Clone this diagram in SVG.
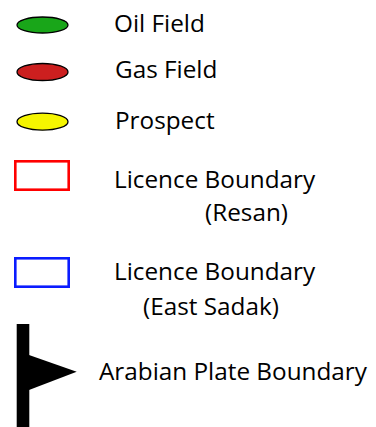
<svg xmlns="http://www.w3.org/2000/svg" width="376" height="427" viewBox="0 0 376 427">
<style>
text{font-family:"Open Sans","Noto Sans","Liberation Sans",sans-serif;font-size:24.3px;fill:#000}
.sym{stroke:#000;stroke-width:1.3}
.lic{fill:none;stroke-width:2.6}
</style>
<rect width="376" height="427" fill="#fff"/>
<g id="oil"><ellipse class="sym" cx="42.5" cy="25" rx="25.5" ry="8" fill="#19a619"/><text x="114" y="32">Oil Field</text></g>
<g id="gas"><ellipse class="sym" cx="42.5" cy="72" rx="25.5" ry="8.5" fill="#cc1f1f"/><text x="115" y="78">Gas Field</text></g>
<g id="prospect"><ellipse class="sym" cx="42.5" cy="121.7" rx="25.5" ry="8.5" fill="#f5f500"/><text x="115" y="129">Prospect</text></g>
<g id="resan"><rect class="lic" x="15.3" y="161.3" width="53.4" height="28.4" stroke="#ff0000"/><text x="114" y="188">Licence Boundary</text><text x="205" y="221">(Resan)</text></g>
<g id="eastsadak"><rect class="lic" x="15.3" y="258.3" width="53.4" height="28.4" stroke="#0a1cff"/><text x="114" y="280">Licence Boundary</text><text x="143" y="315">(East Sadak)</text></g>
<g id="plate"><rect x="16.7" y="324" width="12.6" height="103" fill="#000"/><polygon points="29,355 76.7,371.7 29,390" fill="#000"/><text x="99" y="380">Arabian Plate Boundary</text></g>
</svg>
